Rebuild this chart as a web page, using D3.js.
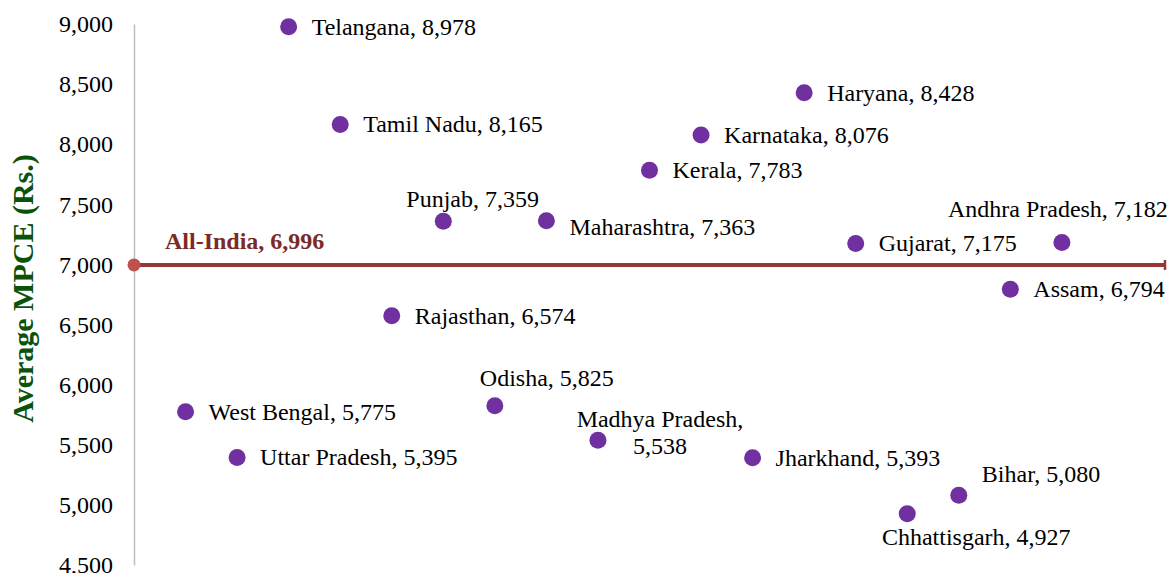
<!DOCTYPE html>
<html>
<head>
<meta charset="utf-8">
<script src="https://cdn.jsdelivr.net/npm/d3@7"></script>
<style>
  body { margin: 0; background: #fff; }
  svg { display: block; font-family: "Liberation Serif", "Times New Roman", serif; }
</style>
</head>
<body>
<div id="vis"></div>
<script>
// states in the order they sit along the x axis (reverse alphabetical)
var states = ["West Bengal", "Uttar Pradesh", "Telangana", "Tamil Nadu", "Rajasthan",
  "Punjab", "Odisha", "Maharashtra", "Madhya Pradesh", "Kerala", "Karnataka",
  "Jharkhand", "Haryana", "Gujarat", "Chhattisgarh", "Bihar", "Assam", "Andhra Pradesh"];
var mpce = [5775, 5395, 8978, 8165, 6574, 7359, 5825, 7363, 5538, 7783, 8076,
  5393, 8428, 7175, 4927, 5080, 6794, 7182];
var allIndia = 6996;
var yTicks = [4500, 5000, 5500, 6000, 6500, 7000, 7500, 8000, 8500, 9000];

// label placement (offset from the dot), default is to the right
var labelPos = {
  "Punjab":         {dx: -37, dy: -14, anchor: "start"},
  "Maharashtra":    {dx: 23, dy: 14, anchor: "start"},
  "Odisha":         {dx: 52, dy: -20, anchor: "middle"},
  "Madhya Pradesh": {dx: 62, dy: -13, anchor: "middle", wrap: true},
  "Bihar":          {dx: 23, dy: -13, anchor: "start"},
  "Chhattisgarh":   {dx: 69, dy: 31, anchor: "middle"},
  "Andhra Pradesh": {dx: -4, dy: -26, anchor: "middle"}
};

var width = 1174, height = 573;
var fmt = d3.format(",");

var svg = d3.select("#vis").append("svg")
    .attr("width", width)
    .attr("height", height);

var x = d3.scaleLinear().domain([0, 20]).range([134, 1165]);
var y = d3.scaleLinear().domain([4500, 9000]).range([565, 24]);

// y axis
var yAxis = svg.append("g")
    .attr("transform", "translate(" + x(0) + ",0)")
    .call(d3.axisLeft(y).tickValues(yTicks).tickFormat(fmt).tickSize(0).tickSizeOuter(0).tickPadding(21));
yAxis.select(".domain").attr("stroke", "#BFBFBF").attr("stroke-width", 1.5);
yAxis.selectAll("text")
    .style("font-family", "Liberation Serif, serif")
    .style("font-size", "24px")
    .attr("fill", "#000");

// axis title
svg.append("text")
    .attr("transform", "translate(33," + ((y(4500) + y(9000)) / 2 - 6) + ") rotate(-90)")
    .attr("text-anchor", "middle")
    .style("font-size", "30px")
    .style("font-weight", "bold")
    .attr("fill", "#0B520B")
    .text("Average MPCE (Rs.)");

// All-India reference line
svg.append("line")
    .attr("x1", x(0)).attr("x2", x(20))
    .attr("y1", y(allIndia)).attr("y2", y(allIndia))
    .attr("stroke", "#953735").attr("stroke-width", 4);
svg.append("line")
    .attr("x1", x(20)).attr("x2", x(20))
    .attr("y1", y(allIndia) - 5).attr("y2", y(allIndia) + 5)
    .attr("stroke", "#953735").attr("stroke-width", 2.5);
svg.append("circle")
    .attr("cx", x(0)).attr("cy", y(allIndia)).attr("r", 6.5)
    .attr("fill", "#C0504D");
svg.append("text")
    .attr("x", x(0) + 31).attr("y", y(allIndia) - 16)
    .style("font-size", "24px")
    .style("font-weight", "bold")
    .attr("fill", "#7B2A28")
    .text("All-India, " + fmt(allIndia));

// dots
var rows = states.map(function(s, i) { return {name: s, value: mpce[i], idx: i + 1}; });

svg.selectAll(".dot")
    .data(rows)
    .enter().append("circle")
    .attr("class", "dot")
    .attr("cx", function(d) { return x(d.idx); })
    .attr("cy", function(d) { return y(d.value); })
    .attr("r", 8.5)
    .attr("fill", "#7030A0");

// data labels
rows.forEach(function(d) {
  var p = labelPos[d.name] || {dx: 23, dy: 8, anchor: "start"};
  var t = svg.append("text")
      .attr("x", x(d.idx) + p.dx)
      .attr("y", y(d.value) + p.dy)
      .attr("text-anchor", p.anchor)
      .style("font-size", "24px")
      .attr("fill", "#000");
  if (p.wrap) {
    t.append("tspan").attr("x", x(d.idx) + p.dx).text(d.name + ",");
    t.append("tspan").attr("x", x(d.idx) + p.dx).attr("dy", 27).text(fmt(d.value));
  } else {
    t.text(d.name + ", " + fmt(d.value));
  }
});
</script>
</body>
</html>
